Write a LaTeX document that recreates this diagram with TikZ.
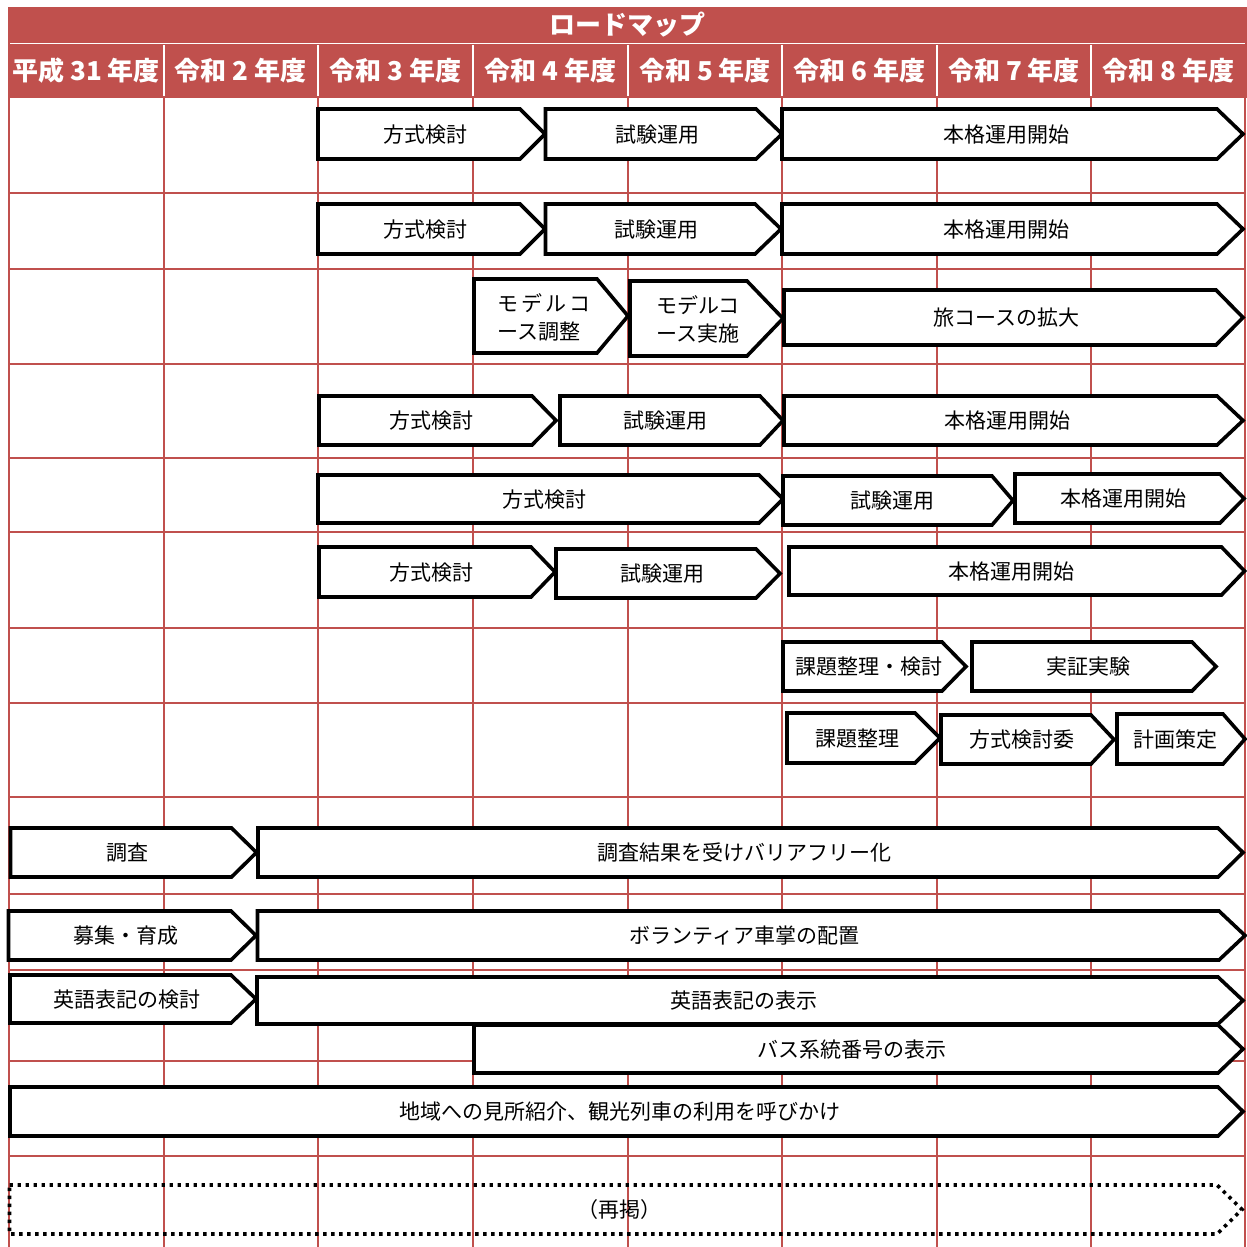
\documentclass[tikz,border=0pt]{standalone}
\usepackage{fontspec}
\setmainfont{Noto Sans CJK JP}
\definecolor{gridred}{HTML}{C0504D}
\tikzset{
  x=1pt, y=-1pt,
  gridline/.style={draw=gridred, line width=2pt},
  chevbox/.style={draw=black, fill=white, line width=3.6pt, line join=miter},
  dotbox/.style={draw=black, line width=3.6pt, dash pattern=on 3.4pt off 4.6pt},
  lbl/.style={font=\fontsize{21}{28}\selectfont, text height=18.5pt, text depth=2.5pt, inner sep=0pt},
  lbltwo/.style={font=\fontsize{21}{28}\selectfont, inner sep=0pt, align=left, anchor=west},
  hdr/.style={font=\fontsize{26}{30}\selectfont\bfseries, text=white, text height=22.9pt, text depth=3.1pt, inner sep=0pt},
}
% #1 style, #2 name, #3 left, #4 top, #5 bottom, #6 tip, #7 depth, #8 text
\newcommand\chev[8][chevbox]{%
  \draw[#1] (#3,#4) -- ({#6-#7},#4) -- (#6,{(#4+#5)/2}) -- ({#6-#7},#5) -- (#3,#5) -- cycle;
  \node[lbl] (#2) at ({(#3+#6-#7/2)/2},{(#4+#5)/2}) {#8};
}
\begin{document}
\begin{tikzpicture}
\useasboundingbox (0,0) rectangle (1247,1247);
% header
\fill[gridred] (8,7) rectangle (1247,98);
\draw[white, line width=1.6pt] (10,43.5) -- (1245,43.5);
\foreach \x in {164,318,473,628,782,937,1091}
  \draw[white, line width=2pt] (\x,45) -- (\x,96);
\node[hdr] (title) at (627.5,25) {ロードマップ};
\node[hdr] (y1) at (86,71) {平成 31 年度};
\node[hdr] (y2) at (240.5,71) {令和 2 年度};
\node[hdr] (y3) at (395.5,71) {令和 3 年度};
\node[hdr] (y4) at (550.5,71) {令和 4 年度};
\node[hdr] (y5) at (705,71) {令和 5 年度};
\node[hdr] (y6) at (859.5,71) {令和 6 年度};
\node[hdr] (y7) at (1014,71) {令和 7 年度};
\node[hdr] (y8) at (1168.5,71) {令和 8 年度};
% grid
\foreach \x in {9,164,318,473,628,782,937,1091,1245}
  \draw[gridline] (\x,98) -- (\x,1247);
\foreach \y in {193,269,364,458,532,628,703,797,894,970,1061,1156}
  \draw[gridline] (8,\y) -- (1246,\y);
% row 1
\chev{a1}{318}{109}{159}{545}{25}{方式検討}
\chev{a2}{545.5}{109}{159}{782}{26}{試験運用}
\chev{a3}{782}{109}{159}{1243}{26}{本格運用開始}
% row 2
\chev{b1}{318}{204}{254}{545}{25}{方式検討}
\chev{b2}{545.5}{204}{254}{781}{26}{試験運用}
\chev{b3}{782}{204}{254}{1243}{26}{本格運用開始}
% row 3
\draw[chevbox] (474,279) -- (597,279) -- (628,316) -- (597,353) -- (474,353) -- cycle;
\node[lbltwo] (c1) at (497,317) {モ\hspace{3pt}デ\hspace{3pt}ル\hspace{3pt}コ\\ース調整};
\draw[chevbox] (630,281) -- (747,281) -- (783,318.5) -- (747,356) -- (630,356) -- cycle;
\node[lbltwo] (c2) at (656,319) {モデルコ\\ース実施};
\chev{c3}{784}{290}{345}{1243}{27}{旅コースの拡大}
% row 4
\chev{d1}{319}{396}{445}{556}{24}{方式検討}
\chev{d2}{560}{396}{445}{783}{23}{試験運用}
\chev{d3}{784}{396}{445}{1243}{26}{本格運用開始}
% row 5
\chev{e1}{318}{475}{523}{783}{24}{方式検討}
\chev{e2}{783}{476}{525}{1013}{21}{試験運用}
\chev{e3}{1015}{474}{523}{1244}{24}{本格運用開始}
% row 6
\chev{f1}{319}{547}{597}{555}{24}{方式検討}
\chev{f2}{556}{549}{598}{780}{24}{試験運用}
\chev{f3}{789}{547}{595}{1244.5}{23}{本格運用開始}
% row 7
\chev{g1}{783}{642}{691}{966}{24}{課題整理・検討}
\chev{g2}{972}{642}{691}{1216}{24}{実証実験}
% row 8
\chev{h1}{787}{713}{763}{940}{25}{課題整理}
\chev{h2}{941}{715}{764}{1114}{23}{方式検討委}
\chev{h3}{1117}{714}{764}{1245}{22}{計画策定}
% row 9
\chev{i1}{10.5}{828}{877}{256.5}{25}{調査}
\chev{i2}{258}{828}{877}{1243}{25}{調査結果を受けバリアフリー化}
% row 10
\chev{j1}{8.5}{911}{960}{256}{25}{募集・育成}
\chev{j2}{257.5}{911}{960}{1245}{26}{ボランティア車掌の配置}
% row 11
\chev{k1}{10}{975}{1023}{256}{25}{英語表記の検討}
\chev{k2}{257}{977}{1024}{1243}{25}{英語表記の表示}
\chev{k3}{474}{1025}{1073}{1243}{25}{バス系統番号の表示}
% row 12
\chev{l1}{10}{1087}{1136}{1243}{25}{地域への見所紹介、観光列車の利用を呼びかけ}
% row 13
\chev[dotbox]{m1}{9.5}{1185}{1234}{1242}{25}{（再掲）}
\end{tikzpicture}
\end{document}
